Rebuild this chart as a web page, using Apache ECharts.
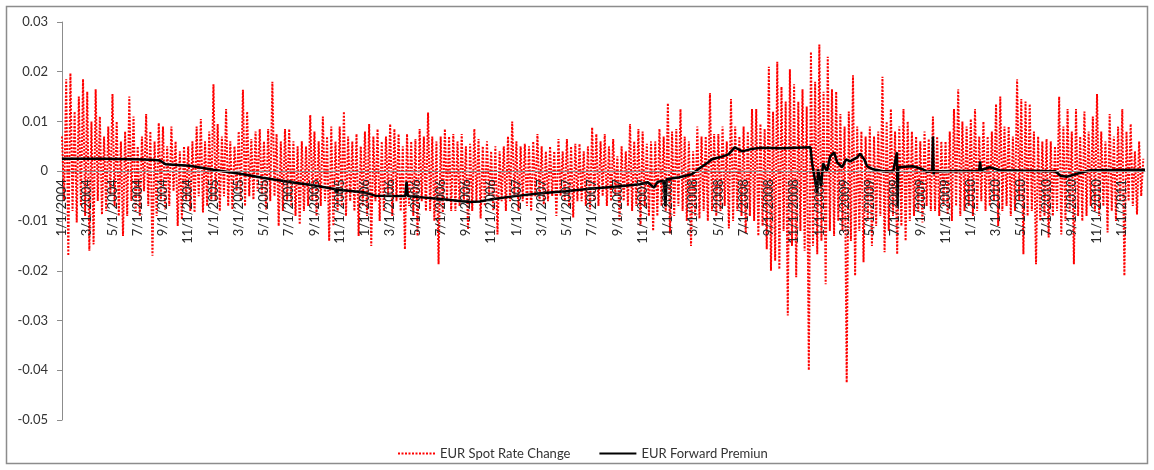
<!DOCTYPE html>
<html><head><meta charset="utf-8">
<script src="https://cdn.jsdelivr.net/npm/echarts/dist/echarts.min.js"></script>
<style>html,body{margin:0;padding:0;background:#fff}#c{width:1154px;height:470px}</style>
</head><body><div id="c"></div>
<script>
// EUR spot rate change, 6 readings per month
const spot2004 = [
 .007,-.006,.0185,-.017,.0197,-.008,
 .012,-.0103,.015,-.007,.0185,-.009,
 .016,-.016,.01,-.0147,.0165,-.006,
 .011,-.0087,.007,-.008,.009,-.005,
 .0155,-.007,.01,-.009,.006,-.013,
 .008,-.009,.015,-.006,.011,-.008,
 .005,-.009,.007,-.004,.0115,-.007,
 .008,-.017,.006,-.009,.0097,-.006,
 .009,-.0077,.005,-.007,.009,-.004,
 .006,-.011,.004,-.0097,.005,-.006,
 .005,-.008,.006,-.0083,.009,-.005,
 .0105,-.0083,.006,-.007,.008,-.006
];
const spot2005 = [
 .0175,-.006,.0095,-.008,.007,-.005,
 .0125,-.007,.006,-.0077,.005,-.004,
 .008,-.006,.0164,-.007,.012,-.005,
 .0065,-.0057,.008,-.004,.0085,-.005,
 .006,-.0077,.0085,-.006,.018,-.005,
 .0075,-.011,.006,-.008,.0085,-.006,
 .0085,-.007,.006,-.009,.005,-.0107,
 .006,-.008,.005,-.007,.0113,-.006,
 .008,-.009,.006,-.007,.011,-.006,
 .007,-.014,.009,-.011,.006,-.008,
 .009,-.007,.012,-.009,.007,-.006,
 .006,-.008,.0075,-.013,.005,-.007
];
const spot2006 = [
 .008,-.009,.0095,-.015,.007,-.006,
 .0085,-.01,.006,-.008,.007,-.005,
 .0095,-.009,.0085,-.006,.0075,-.008,
 .005,-.0157,.0075,-.007,.006,-.009,
 .0065,-.013,.0085,-.006,.007,-.008,
 .0118,-.008,.007,-.01,.006,-.0187,
 .007,-.0083,.0085,-.006,.007,-.008,
 .0075,-.008,.006,-.007,.0075,-.006,
 .005,-.0117,.0055,-.008,.0085,-.006,
 .0065,-.0095,.005,-.007,.006,-.005,
 .004,-.008,.005,-.0127,.004,-.006,
 .005,-.008,.007,-.006,.01,-.005
];
const spot2007 = [
 .006,-.008,.005,-.006,.0055,-.007,
 .005,-.008,.006,-.005,.0075,-.006,
 .005,-.0067,.004,-.006,.005,-.005,
 .004,-.009,.0065,-.005,.004,-.006,
 .0065,-.007,.005,-.0093,.0055,-.006,
 .0055,-.006,.004,-.007,.005,-.0077,
 .0088,-.006,.0075,-.007,.006,-.005,
 .0075,-.007,.005,-.006,.0065,-.005,
 .003,-.01,.005,-.006,.004,-.007,
 .0095,-.008,.006,-.007,.0085,-.011,
 .008,-.007,.0055,-.009,.006,-.012,
 .006,-.009,.0085,-.007,.007,-.008
];
const spot2008 = [
 .0137,-.0125,.008,-.009,.0085,-.007,
 .0125,-.008,.007,-.01,.006,-.015,
 .004,-.009,.009,-.0095,.007,-.008,
 .007,-.01,.0157,-.008,.0075,-.009,
 .0075,-.008,.009,-.007,.006,-.0115,
 .0145,-.01,.009,-.008,.007,-.009,
 .009,-.0125,.008,-.009,.0125,-.01,
 .0125,-.013,.0095,-.011,.0085,-.0157,
 .021,-.02,.012,-.018,.022,-.0197,
 .017,-.012,.014,-.029,.0205,-.015,
 .0175,-.0213,.014,-.012,.0165,-.016,
 .013,-.04,.024,-.015,.018,-.0167
];
const spot2009 = [
 .0255,-.014,.016,-.0227,.023,-.012,
 .0165,-.013,.016,-.01,.0115,-.012,
 .009,-.0425,.012,-.014,.0193,-.021,
 .009,-.012,.008,-.0183,.007,-.01,
 .009,-.015,.007,-.011,.008,-.009,
 .019,-.0163,.01,-.012,.0125,-.009,
 .008,-.0167,.009,-.011,.0125,-.014,
 .01,-.01,.008,-.009,.007,-.008,
 .006,-.0103,.008,-.007,.0065,-.008,
 .011,-.008,.007,-.009,.006,-.007,
 .006,-.0087,.008,-.01,.0125,-.007,
 .0165,-.009,.01,-.008,.009,-.007
];
const spot2010 = [
 .0105,-.009,.0125,-.008,.007,-.006,
 .01,-.008,.007,-.007,.008,-.006,
 .0135,-.011,.015,-.008,.009,-.007,
 .009,-.009,.007,-.008,.0185,-.006,
 .0145,-.0167,.014,-.009,.0135,-.008,
 .008,-.0187,.007,-.01,.006,-.009,
 .0065,-.0133,.006,-.009,.005,-.008,
 .015,-.0127,.009,-.01,.0125,-.008,
 .008,-.0187,.0125,-.009,.007,-.01,
 .012,-.009,.008,-.007,.011,-.008,
 .0155,-.009,.008,-.007,.006,-.0123,
 .0115,-.008,.007,-.01,.009,-.006
];
const spot2011 = [
 .0125,-.021,.008,-.006,.0095,-.007,
 .004,-.0087,.006,-.005,.0025
];

// EUR forward premium: months since 1/1/2004 and value
const fwdT = [0,3,5.9,7,7.6,7.8,8.2,10.1,12,14.1,15.9,17.9,19.9,21.7,21.75,21.85,23.9,24.8,27.2,27.3,27.4,
  30,31.5,32.3,33.1,33.9,35.9,37.9,39.9,41.8,43.8,45.8,46.4,46.9,47.2,47.7,47.8,47.9,48.9,49.9,50.4,
  51.2,51.5,52.1,52.8,53.3,53.9,54.5,55.3,57,59.3,59.43,59.83,59.9,60.14,60.3,60.6,60.86,61.17,61.41,
  61.81,62.12,62.44,63.0,63.23,63.55,63.79,64.26,65.05,65.85,66.15,66.2,66.25,66.4,67.4,68.2,68.5,
  68.95,69.0,69.05,69.1,69.57,72.66,72.74,72.8,73.5,74.3,78.7,79.1,79.6,80.7,81.5,85.8];
const fwdV = [.0025,.0025,.0024,.0023,.0022,.0021,.0014,.0011,.0003,-.0005,-.0013,-.0021,-.0028,-.0036,-.0044,-.0037,-.0042,-.0049,-.005,-.0021,-.005,
  -.0056,-.006,-.0062,-.0061,-.0057,-.005,-.0044,-.004,-.0035,-.0031,-.0026,-.0022,-.0033,-.0021,-.0019,-.007,-.0016,-.0012,-.0006,.0004,
  .0018,.0024,.0028,.0034,.0048,.004,.0044,.0047,.0046,.0048,.0015,-.0043,.0004,-.003,.0016,0,.003,.0038,.0018,
  .0008,.0024,.002,.0028,.0035,.0024,.001,.0004,0,0,.0038,-.007,.0008,.0008,.001,.0004,-.0001,
  .0001,.007,-.0006,0,0,.0001,.002,.0002,.0008,.0002,0,-.0009,-.0011,-.0003,.0002,.0003];

const yTicks = [-0.05,-0.04,-0.03,-0.02,-0.01,0,0.01,0.02,0.03];
const firstYear = 2004;
const perMonth = 6;

const spotYears = [spot2004,spot2005,spot2006,spot2007,spot2008,spot2009,spot2010,spot2011];
const spotData = [];
spotYears.forEach((arr, y) => arr.forEach((v, i) => spotData.push([y * 12 + i / perMonth, v])));
const fwdData = fwdT.map((t, i) => [t, fwdV[i]]);

const FONT = 'Lato, "Noto Sans", sans-serif';
const GRID_TOP = 22, GRID_BOTTOM = 50, H = 470;
const plotH = H - GRID_TOP - GRID_BOTTOM;
const yMin = yTicks[0], yMax = yTicks[yTicks.length - 1];
// shift the x axis up so it sits at value 0 of the y axis
const zeroOffset = -plotH * (0 - yMin) / (yMax - yMin);

const chart = echarts.init(document.getElementById('c'), null, {renderer: 'canvas'});
chart.setOption({
  animation: false,
  backgroundColor: '#fff',
  textStyle: {fontFamily: FONT},
  graphic: [{type: 'rect', shape: {x: 6.5, y: 6.5, width: 1141, height: 457},
             style: {fill: 'none', stroke: '#8c8c8c', lineWidth: 1.5}, silent: true}],
  grid: {left: 62, right: 9, top: GRID_TOP, bottom: GRID_BOTTOM, containLabel: false, outerBoundsMode: 'none'},
  legend: {
    left: 392, top: 442, itemWidth: 37, itemHeight: 14, itemGap: 28,
    itemStyle: {opacity: 0},
    textStyle: {fontFamily: FONT, fontSize: 13, color: '#333'},
    data: ['EUR Spot Rate Change', 'EUR Forward Premiun']
  },
  xAxis: {
    type: 'value', min: 0, max: 85.8, interval: 2, position: 'bottom', offset: zeroOffset, z: 10,
    splitLine: {show: false},
    axisLine: {onZero: false, lineStyle: {color: '#8c8c8c'}},
    axisTick: {show: false},
    axisLabel: {
      rotate: 90, margin: 8, fontSize: 13, color: '#262626', fontFamily: FONT,
      showMaxLabel: false, showMinLabel: true,
      formatter: v => { const m = Math.round(v); return (m % 12 + 1) + '/1/' + (firstYear + Math.floor(m / 12)); }
    }
  },
  yAxis: {
    type: 'value', min: yMin, max: yMax, interval: 0.01,
    splitLine: {show: false},
    axisLine: {show: true, onZero: false, lineStyle: {color: '#8c8c8c'}},
    axisTick: {show: true, length: 5, lineStyle: {color: '#8c8c8c'}},
    axisLabel: {margin: 14, fontSize: 13, color: '#333', fontFamily: FONT,
      formatter: v => String(parseFloat(v.toFixed(2)))}
  },
  series: [
    {name: 'EUR Spot Rate Change', type: 'line', data: spotData, showSymbol: false, symbol: 'none',
     lineStyle: {color: '#ff0000', width: 2, type: [2, 1.5]}, itemStyle: {color: '#ff0000'}, z: 2},
    {name: 'EUR Forward Premiun', type: 'line', data: fwdData, showSymbol: false, symbol: 'none',
     lineStyle: {color: '#000', width: 2.5}, itemStyle: {color: '#000'}, z: 3}
  ]
});
</script></body></html>
